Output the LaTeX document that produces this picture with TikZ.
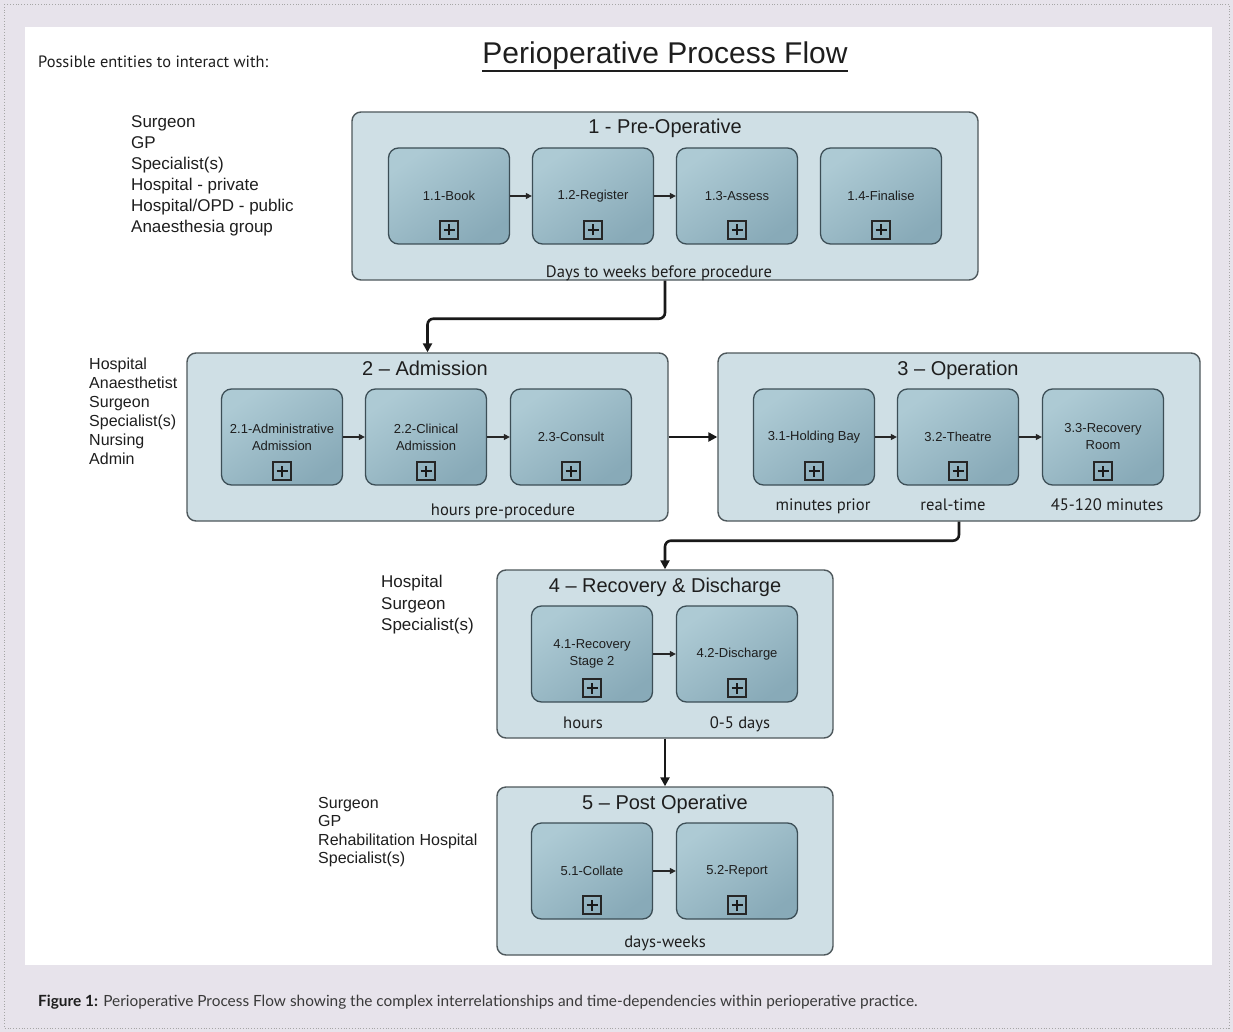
\documentclass[tikz,border=0pt]{standalone}
\usepackage{fontspec}
\setmainfont{Liberation Sans}
\newfontfamily\myr{PT Sans}
\newfontfamily\capfont{Lato}
\usetikzlibrary{arrows.meta,calc}
\definecolor{lav}{HTML}{E7E3EB}
\definecolor{ofill}{HTML}{CFDFE5}
\definecolor{obord}{HTML}{4E585C}
\definecolor{stop}{HTML}{ADCAD4}
\definecolor{sbot}{HTML}{88AAB8}
\definecolor{sbord}{HTML}{3C4E56}
\definecolor{txt}{HTML}{1E1E1E}
\definecolor{captxt}{HTML}{3A3A3A}
\tikzset{
 outerbox/.style={draw=obord, line width=1.4pt, fill=ofill, rounded corners=9pt, inner sep=0pt, minimum height=168pt},
 subbox/.style={draw=sbord, line width=1.3pt, rounded corners=10pt, minimum width=121pt, minimum height=96pt, inner sep=0pt, top color=stop, bottom color=sbot, shading angle=35, align=center, text=txt, font=\fontsize{13}{17}\selectfont},
 plusbox/.style={draw=black!85, line width=1.1pt, minimum size=18pt, inner sep=0pt,
   path picture={\draw[line width=2.3pt, black!90]
     ($(path picture bounding box.center)+(-5.5pt,0)$) -- ($(path picture bounding box.center)+(5.5pt,0)$)
     ($(path picture bounding box.center)+(0,-5.5pt)$) -- ($(path picture bounding box.center)+(0,5.5pt)$);}},
 boxtitle/.style={font=\fontsize{20}{24}\selectfont, text=txt, inner sep=0pt, anchor=base},
 timelbl/.style={font=\myr\fontsize{16.6}{19}\selectfont, text=txt, inner sep=0pt, anchor=base},
 entlist/.style={align=left, anchor=north west, text=txt, inner sep=0pt},
 flow/.style={line width=2.6pt, draw=black!90, rounded corners=6pt, -{Triangle[length=9pt,width=9pt]}},
 inflow/.style={line width=1.3pt, draw=black!85, -{Triangle[length=6pt,width=6pt]}},
}
\newcommand\subbox[4]{%
  \node[subbox] (#1) at (#2,#3) {#4};
  \node[plusbox] (#1p) at ($(#1.center)+(0,34)$) {};
}
\begin{document}
\begin{tikzpicture}[x=1pt,y=-1pt]
\useasboundingbox (0,0) rectangle (1233,1032);
\fill[lav] (0,0) rectangle (1233,1032);
\draw[gray!70, dotted, line width=0.8pt] (4,4) rectangle (1229,1028);
\fill[white] (25,27) rectangle (1212,965);

% header
\node[anchor=west, inner sep=0pt, font=\myr\fontsize{16.4}{18}\selectfont, text=txt] (ent) at (38,62) {Possible entities to interact with:};
\node[anchor=base, inner sep=0pt, font=\fontsize{30}{34}\selectfont, text=txt] (title) at (665,64) {Perioperative Process Flow};
\draw[line width=1.8pt, txt] ($(title.base west)+(0,7)$) -- ($(title.base east)+(0,7)$);

% entity lists
\node[entlist, font=\fontsize{17}{21}\selectfont] (list1) at (131,115) {Surgeon\\GP\\Specialist(s)\\Hospital - private\\Hospital/OPD - public\\Anaesthesia group};
\node[entlist, font=\fontsize{16}{19}\selectfont] (list2) at (89,358) {Hospital\\Anaesthetist\\Surgeon\\Specialist(s)\\Nursing\\Admin};
\node[entlist, font=\fontsize{17}{21.5}\selectfont] (list3) at (381,575) {Hospital\\Surgeon\\Specialist(s)};
\node[entlist, font=\fontsize{16}{18.5}\selectfont] (list4) at (318,797) {Surgeon\\GP\\Rehabilitation Hospital\\Specialist(s)};

% outer boxes
\node[outerbox, minimum width=626pt] (b1) at (665,196) {};
\node[outerbox, minimum width=481pt] (b2) at (427.5,437) {};
\node[outerbox, minimum width=482pt] (b3) at (959,437) {};
\node[outerbox, minimum width=336pt] (b4) at (665,654) {};
\node[outerbox, minimum width=336pt] (b5) at (665,871) {};

\node[boxtitle] (t1) at (665,134) {1 - Pre-Operative};
\node[boxtitle] (t2) at (425,375) {2 -- Admission};
\node[boxtitle] (t3) at (958,375) {3 -- Operation};
\node[boxtitle] (t4) at (665,592) {4 -- Recovery \& Discharge};
\node[boxtitle] (t5) at (665,809) {5 -- Post Operative};

% sub boxes
\subbox{n11}{449}{196}{1.1-Book}
\subbox{n12}{593}{196}{1.2-Register}
\subbox{n13}{737}{196}{1.3-Assess}
\subbox{n14}{881}{196}{1.4-Finalise}
\subbox{n21}{282}{437}{2.1-Administrative\\Admission}
\subbox{n22}{426}{437}{2.2-Clinical\\Admission}
\subbox{n23}{571}{437}{2.3-Consult}
\subbox{n31}{814}{437}{3.1-Holding Bay}
\subbox{n32}{958}{437}{3.2-Theatre}
\subbox{n33}{1103}{437}{3.3-Recovery\\Room}
\subbox{n41}{592}{654}{4.1-Recovery\\Stage 2}
\subbox{n42}{737}{654}{4.2-Discharge}
\subbox{n51}{592}{871}{5.1-Collate}
\subbox{n52}{737}{871}{5.2-Report}

% time labels
\node[timelbl] (d1) at (659,277) {Days to weeks before procedure};
\node[timelbl] (d2) at (503,515) {hours pre-procedure};
\node[timelbl] (d31) at (823,510) {minutes prior};
\node[timelbl] (d32) at (953,510) {real-time};
\node[timelbl] (d33) at (1107,510) {45-120 minutes};
\node[timelbl] (d41) at (583,728) {hours};
\node[timelbl] (d42) at (740,728) {0-5 days};
\node[timelbl] (d5) at (665,947) {days-weeks};

% inner arrows
\draw[inflow] (n11.east) -- (n12.west);
\draw[inflow] (n12.east) -- (n13.west);
\draw[inflow] (n21.east) -- (n22.west);
\draw[inflow] (n22.east) -- (n23.west);
\draw[inflow] (n31.east) -- (n32.west);
\draw[inflow] (n32.east) -- (n33.west);
\draw[inflow] (n41.east) -- (n42.west);
\draw[inflow] (n51.east) -- (n52.west);

% main flow
\draw[flow] (b1.south) -- ++(0,38) -| (b2.north);
\draw[flow] (b2.east) -- (b3.west);
\draw[flow] (b3.south) -- ++(0,19) -| (b4.north);
\draw[flow] (b4.south) -- (b5.north);

% caption
\node[anchor=west, inner sep=0pt, font=\capfont\fontsize{15.4}{18}\selectfont, text=captxt] (cap) at (38,1002) {{\bfseries\color{txt}Figure 1:} Perioperative Process Flow showing the complex interrelationships and time-dependencies within perioperative practice.};
\end{tikzpicture}
\end{document}
